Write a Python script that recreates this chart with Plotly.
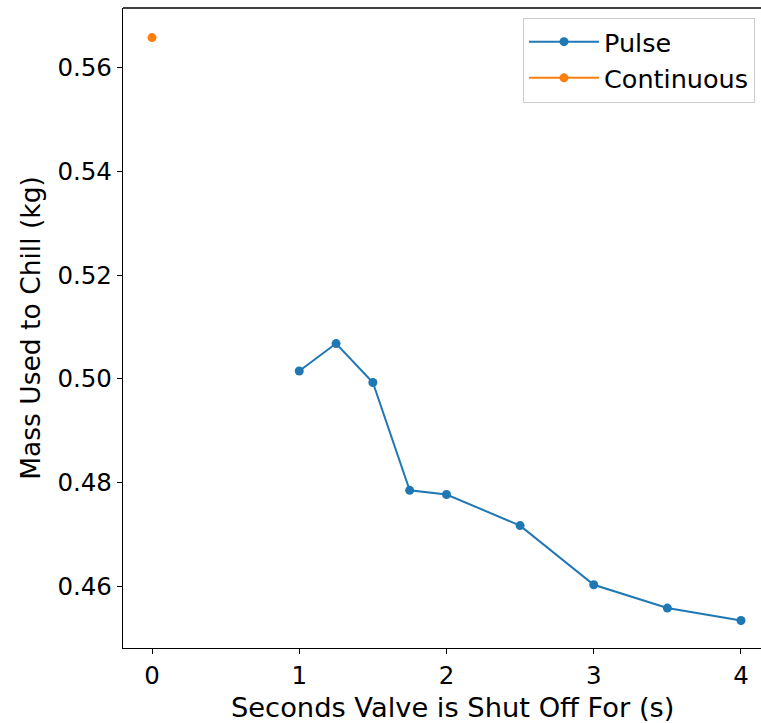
import plotly.graph_objects as go

pulse_x = [1, 1.25, 1.5, 1.75, 2, 2.5, 3, 3.5, 4]
pulse_y = [0.5015, 0.5068, 0.4993, 0.4785, 0.4777, 0.4717, 0.4603, 0.4558, 0.4534]
cont_x = [0]
cont_y = [0.5658]

x_ticks = [0, 1, 2, 3, 4]
y_ticks = [0.46, 0.48, 0.50, 0.52, 0.54, 0.56]
x_title = "Seconds Valve is Shut Off For (s)"
y_title = "Mass Used to Chill (kg)"

FONT = "DejaVu Sans"
fig = go.Figure()
fig.add_trace(go.Scatter(x=pulse_x, y=pulse_y, mode="lines+markers", name="Pulse",
                         line=dict(color="#1f77b4", width=2),
                         marker=dict(color="#1f77b4", size=9), legendgroup="a"))
fig.add_trace(go.Scatter(x=cont_x, y=cont_y, mode="lines+markers", name="Continuous",
                         line=dict(color="#ff7f0e", width=2),
                         marker=dict(color="#ff7f0e", size=9), legendgroup="b"))

fig.add_shape(type="line", xref="paper", yref="paper", x0=0, x1=1, y0=1, y1=1,
              line=dict(color="black", width=1.3))

# x-axis title (the original axes extend past the right edge, so its centre is shifted)
fig.add_annotation(text=x_title, xref="paper", yref="paper", x=0.5157, y=-0.0935,
                   xanchor="center", yanchor="middle", showarrow=False,
                   font=dict(family=FONT, size=27.3, color="black"))

fig.update_layout(
    width=761, height=723,
    margin=dict(l=123, r=0, t=8, b=75),
    paper_bgcolor="white", plot_bgcolor="white",
    font=dict(family=FONT, size=24.5, color="black"),
    showlegend=True,
    legend=dict(x=0.9906, y=0.985, xanchor="right", yanchor="top",
                bordercolor="#cccccc", borderwidth=1, bgcolor="white",
                font=dict(family=FONT, size=25.5), tracegroupgap=0,
                itemwidth=70),
    xaxis=dict(range=[-0.197, 4.136], tickvals=x_ticks, ticktext=[str(v) for v in x_ticks],
               showgrid=False, zeroline=False, showline=True, linecolor="black", linewidth=1.3,
               mirror=False, ticks="outside", ticklen=5, tickwidth=1.3, tickcolor="black",
               tickfont=dict(size=24.5), automargin=False),
    yaxis=dict(range=[0.4481, 0.5715], tickvals=y_ticks, ticktext=["%.2f" % v for v in y_ticks],
               showgrid=False, zeroline=False, showline=True, linecolor="black", linewidth=1.3,
               mirror=False, ticks="outside", ticklen=5, tickwidth=1.3, tickcolor="black",
               tickfont=dict(size=24.5),
               title=dict(text=y_title, standoff=9,
                          font=dict(family=FONT, size=26.5)),
               automargin=False),
)
fig.write_html("out.html")
